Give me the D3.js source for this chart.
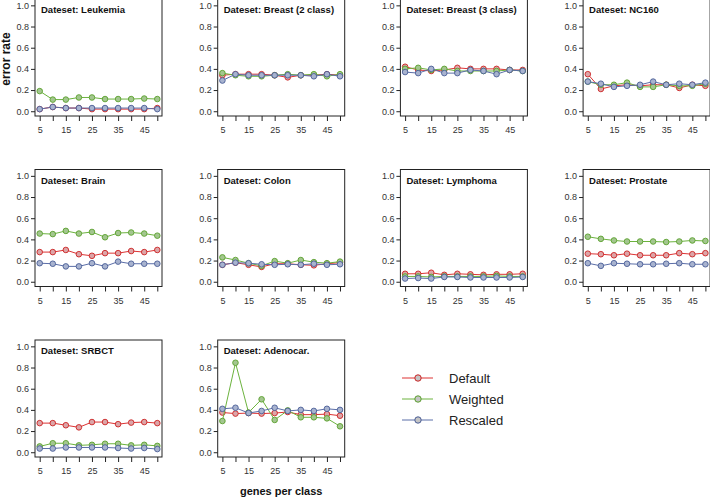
<!DOCTYPE html>
<html lang="en">
<head>
  <meta charset="UTF-8" />
  <title>Error rate by genes per class</title>
  <script src="https://d3js.org/d3.v7.min.js"></script>
  <style>
    body, html {
      margin: 0;
      padding: 0;
      background: #fff;
      font-family: Arial, "Liberation Sans", sans-serif;
    }
    #chart {
      display: block;
    }
  </style>
</head>
<body>
  <svg id="chart" width="710" height="497"></svg>
  <script>
    // genes per class (x values)
    const genes = [5, 10, 15, 20, 25, 30, 35, 40, 45, 50];
    const xTicks = [5, 10, 15, 20, 25, 30, 35, 40, 45, 50];
    const xTickLabels = [5, 15, 25, 35, 45];
    const yTicks = [0, 0.2, 0.4, 0.6, 0.8, 1.0];

    const datasets = ['Leukemia', 'Breast (2 class)', 'Breast (3 class)', 'NC160',
                      'Brain', 'Colon', 'Lymphoma', 'Prostate', 'SRBCT', 'Adenocar.'];

    // error rates, one row per dataset
    const defaultRates = [
      [0.02, 0.04, 0.03, 0.03, 0.02, 0.02, 0.02, 0.02, 0.02, 0.03],
      [0.34, 0.35, 0.35, 0.35, 0.34, 0.32, 0.34, 0.34, 0.35, 0.34],
      [0.42, 0.39, 0.38, 0.39, 0.41, 0.40, 0.40, 0.40, 0.39, 0.39],
      [0.35, 0.21, 0.24, 0.25, 0.24, 0.25, 0.25, 0.22, 0.25, 0.24],
      [0.28, 0.28, 0.30, 0.26, 0.245, 0.27, 0.27, 0.29, 0.28, 0.30],
      [0.16, 0.18, 0.16, 0.14, 0.17, 0.17, 0.16, 0.155, 0.17, 0.18],
      [0.075, 0.075, 0.085, 0.065, 0.075, 0.07, 0.065, 0.07, 0.07, 0.075],
      [0.265, 0.26, 0.25, 0.265, 0.25, 0.25, 0.25, 0.27, 0.26, 0.27],
      [0.275, 0.275, 0.255, 0.235, 0.285, 0.285, 0.265, 0.28, 0.285, 0.275],
      [0.375, 0.365, 0.37, 0.365, 0.37, 0.38, 0.355, 0.355, 0.36, 0.345]
    ];
    const weightedRates = [
      [0.19, 0.11, 0.11, 0.13, 0.13, 0.115, 0.115, 0.115, 0.12, 0.115],
      [0.36, 0.34, 0.33, 0.33, 0.34, 0.35, 0.34, 0.35, 0.33, 0.35],
      [0.40, 0.41, 0.39, 0.40, 0.38, 0.38, 0.38, 0.38, 0.39, 0.38],
      [0.28, 0.25, 0.25, 0.27, 0.23, 0.23, 0.25, 0.24, 0.24, 0.26],
      [0.455, 0.45, 0.48, 0.455, 0.47, 0.42, 0.46, 0.465, 0.455, 0.435],
      [0.23, 0.205, 0.175, 0.15, 0.195, 0.175, 0.205, 0.185, 0.175, 0.19],
      [0.05, 0.05, 0.045, 0.05, 0.05, 0.05, 0.05, 0.055, 0.05, 0.05],
      [0.425, 0.405, 0.39, 0.38, 0.38, 0.38, 0.375, 0.38, 0.39, 0.385],
      [0.055, 0.085, 0.085, 0.065, 0.07, 0.08, 0.08, 0.065, 0.07, 0.06],
      [0.295, 0.845, 0.375, 0.50, 0.305, 0.395, 0.33, 0.33, 0.32, 0.245]
    ];
    const rescaledRates = [
      [0.02, 0.04, 0.03, 0.03, 0.03, 0.03, 0.03, 0.03, 0.03, 0.02],
      [0.29, 0.35, 0.34, 0.34, 0.34, 0.34, 0.34, 0.33, 0.35, 0.33],
      [0.37, 0.36, 0.40, 0.36, 0.36, 0.39, 0.38, 0.35, 0.39, 0.38],
      [0.28, 0.26, 0.23, 0.24, 0.25, 0.28, 0.25, 0.26, 0.25, 0.27],
      [0.175, 0.17, 0.145, 0.145, 0.175, 0.145, 0.19, 0.17, 0.17, 0.17],
      [0.16, 0.18, 0.175, 0.165, 0.16, 0.165, 0.16, 0.17, 0.16, 0.165],
      [0.03, 0.035, 0.03, 0.045, 0.045, 0.04, 0.04, 0.04, 0.04, 0.045],
      [0.175, 0.15, 0.175, 0.17, 0.165, 0.165, 0.17, 0.175, 0.165, 0.165],
      [0.035, 0.035, 0.045, 0.045, 0.045, 0.045, 0.04, 0.035, 0.04, 0.03],
      [0.41, 0.42, 0.37, 0.39, 0.42, 0.39, 0.40, 0.39, 0.41, 0.40]
    ];

    const seriesNames = ['Default', 'Weighted', 'Rescaled'];
    const seriesRates = [defaultRates, weightedRates, rescaledRates];
    const lineColors = ['#dd3333', '#6cb33e', '#5b6ea8'];
    const dotStrokes = ['#cc2222', '#5aa02c', '#4a5d96'];
    const dotFills = ['#dca5a8', '#a3c68f', '#a8b3cf'];

    const svg = d3.select('#chart');

    // grid of small panels
    const boxW = 127, boxH = 117;
    const colStep = 182.7, rowStep = 170.5;
    const left0 = 35, top0 = -1;

    datasets.forEach((name, i) => {
      const col = i % 4, row = Math.floor(i / 4);
      const bx = left0 + col * colStep;
      const by = top0 + row * rowStep;

      const x = d3.scaleLinear().domain([3.2, 51.8]).range([bx, bx + boxW]);
      const y = d3.scaleLinear().domain([-0.045, 1.06]).range([by + boxH, by]);

      const g = svg.append('g');

      // y axis (ticks left of the box)
      const yAxis = g.append('g')
        .attr('transform', `translate(${bx},0)`)
        .call(d3.axisLeft(y).tickValues(yTicks).tickSize(4).tickPadding(2).tickFormat(d3.format('.1f')));
      yAxis.select('.domain').remove();

      // x axis (ticks below the box)
      const xAxis = g.append('g')
        .attr('transform', `translate(0,${by + boxH})`)
        .call(d3.axisBottom(x).tickValues(xTicks).tickSize(5).tickPadding(6)
          .tickFormat(d => xTickLabels.includes(d) ? d : ''));
      xAxis.select('.domain').remove();

      g.selectAll('.tick line').attr('stroke', '#222');
      g.selectAll('.tick text').attr('fill', '#333').style('font-size', '9px')
        .style('font-family', 'Arial, "Liberation Sans", sans-serif');

      // series
      seriesRates.forEach((rates, s) => {
        const vals = rates[i].map((v, k) => ({ g: genes[k], v: v }));
        g.append('path')
          .datum(vals)
          .attr('fill', 'none')
          .attr('stroke', lineColors[s])
          .attr('stroke-width', 1)
          .attr('d', d3.line().x(d => x(d.g)).y(d => y(d.v)));
        g.selectAll(null)
          .data(vals)
          .enter().append('circle')
          .attr('cx', d => x(d.g))
          .attr('cy', d => y(d.v))
          .attr('r', 2.8)
          .attr('fill', dotFills[s])
          .attr('stroke', dotStrokes[s])
          .attr('stroke-width', 0.9);
      });

      // frame
      g.append('rect')
        .attr('x', bx).attr('y', by)
        .attr('width', boxW).attr('height', boxH)
        .attr('fill', 'none')
        .attr('stroke', '#222')
        .attr('stroke-width', 1);

      g.append('text')
        .attr('x', bx + 6)
        .attr('y', by + 14)
        .attr('font-size', '9.5px')
        .attr('font-weight', 'bold')
        .attr('fill', '#111')
        .text('Dateset: ' + name);
    });

    // axis titles
    svg.append('text')
      .attr('transform', 'translate(10,59) rotate(-90)')
      .attr('text-anchor', 'middle')
      .attr('font-size', '12px')
      .attr('font-weight', 'bold')
      .attr('fill', '#111')
      .text('error rate');

    svg.append('text')
      .attr('x', left0 + colStep + boxW / 2)
      .attr('y', 495)
      .attr('text-anchor', 'middle')
      .attr('font-size', '11px')
      .attr('font-weight', 'bold')
      .attr('fill', '#111')
      .text('genes per class');

    // legend
    const legend = svg.append('g');
    seriesNames.forEach((name, s) => {
      const ly = 378 + s * 21;
      legend.append('line')
        .attr('x1', 402).attr('x2', 433)
        .attr('y1', ly).attr('y2', ly)
        .attr('stroke', lineColors[s]).attr('stroke-width', 1);
      legend.append('circle')
        .attr('cx', 418).attr('cy', ly).attr('r', 3.2)
        .attr('fill', '#c4c4c4')
        .attr('stroke', dotStrokes[s]).attr('stroke-width', 1);
      legend.append('text')
        .attr('x', 449).attr('y', ly + 4.5)
        .attr('font-size', '13px')
        .attr('fill', '#222')
        .text(name);
    });
  </script>
</body>
</html>
